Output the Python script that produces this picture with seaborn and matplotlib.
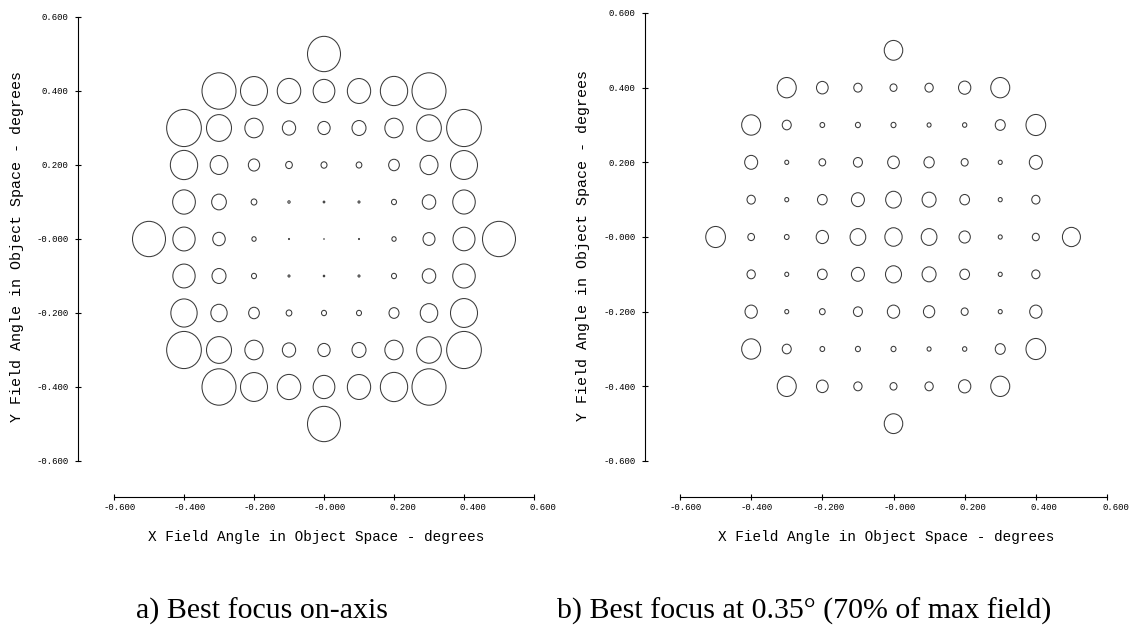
import matplotlib
matplotlib.use("Agg")
import matplotlib.pyplot as plt
import matplotlib.transforms as mtransforms
from matplotlib.path import Path
import pandas as pd
import seaborn as sns

# Spot matrix: field points in degrees, one list of x positions per y row
field_y = [0.5, 0.4, 0.3, 0.2, 0.1, 0.0, -0.1, -0.2, -0.3, -0.4, -0.5]
field_x = [
    [0.0],
    [-0.3, -0.2, -0.1, 0.0, 0.1, 0.2, 0.3],
    [-0.4, -0.3, -0.2, -0.1, 0.0, 0.1, 0.2, 0.3, 0.4],
    [-0.4, -0.3, -0.2, -0.1, 0.0, 0.1, 0.2, 0.3, 0.4],
    [-0.4, -0.3, -0.2, -0.1, 0.0, 0.1, 0.2, 0.3, 0.4],
    [-0.5, -0.4, -0.3, -0.2, -0.1, 0.0, 0.1, 0.2, 0.3, 0.4, 0.5],
    [-0.4, -0.3, -0.2, -0.1, 0.0, 0.1, 0.2, 0.3, 0.4],
    [-0.4, -0.3, -0.2, -0.1, 0.0, 0.1, 0.2, 0.3, 0.4],
    [-0.4, -0.3, -0.2, -0.1, 0.0, 0.1, 0.2, 0.3, 0.4],
    [-0.3, -0.2, -0.1, 0.0, 0.1, 0.2, 0.3],
    [0.0],
]

# spot diameters (relative units)
spot_a = [
    [34],
    [35, 28, 24.5, 22.7, 24.3, 28.3, 35],
    [35.7, 26, 19.3, 14.3, 13.3, 15, 19.3, 25.7, 35.7],
    [28.3, 18.7, 12.3, 7.7, 7, 6.7, 11.7, 19, 28],
    [23.7, 15.7, 6.7, 3.3, 2.7, 3, 6, 14.5, 23.5],
    [34, 23.3, 13.5, 5.3, 2, 1, 2, 5.3, 13, 23, 34],
    [23.3, 15, 6, 3, 2.5, 3, 6, 14.5, 23.5],
    [27.3, 17.3, 11.7, 6.7, 6, 6, 11, 18.5, 28],
    [35.7, 26, 19.3, 14.3, 13.3, 15, 19.3, 25.7, 35.7],
    [35, 28, 24.5, 22.7, 24.3, 28.3, 35],
    [34],
]
spot_b = [
    [19.5],
    [20, 12.7, 9.3, 8, 9.3, 13.3, 20],
    [20, 10, 5.7, 6, 6, 5, 5.3, 11, 20.7],
    [14, 5, 7.7, 10, 12.7, 11.3, 8, 5, 14],
    [9.3, 5, 10.7, 14, 16.7, 15, 10.7, 5, 9.2],
    [20.7, 7.7, 5.7, 13.3, 16.7, 18.3, 16.7, 12.3, 5, 8, 19],
    [9.3, 5, 10.7, 14, 17, 15, 10.7, 5, 9.2],
    [13.3, 5, 6.7, 10, 13.3, 12.3, 8, 5, 13.3],
    [20, 10, 5.7, 6, 6, 5, 5.3, 11, 20.7],
    [20, 12.7, 9.3, 8, 9.3, 13.3, 20],
    [19.5],
]

tick_values = [-0.6, -0.4, -0.2, 0.0, 0.2, 0.4, 0.6]
tick_labels = ["-0.600", "-0.400", "-0.200", "-0.000", "0.200", "0.400", "0.600"]
x_title = "X Field Angle in Object Space - degrees"
y_title = "Y Field Angle in Object Space - degrees"
captions = ["a) Best focus on-axis", "b) Best focus at 0.35\u00b0 (70% of max field)"]


def load_data() -> pd.DataFrame:
    rows = []
    for panel, spots in (("a", spot_a), ("b", spot_b)):
        for y, xs, ds in zip(field_y, field_x, spots):
            for x, d in zip(xs, ds):
                rows.append((panel, x, y, d))
    return pd.DataFrame(rows, columns=["panel", "x", "y", "spot"])


DPI = 100
W, H = 1130, 634
STRETCH = 1.07  # picture was stretched vertically, so spots are slightly tall
LW = 0.75

# pixel geometry of each panel: axes box, spine offsets, label positions
layout = {
    "a": dict(box=(114, 17, 534, 461), off=(25.9, 25.9), xlab=(0.481, -0.171),
              ylab=(-0.231, 0.482), cap=(262, 611)),
    "b": dict(box=(680, 13, 1107, 461), off=(25.2, 25.9), xlab=(0.482, -0.170),
              ylab=(-0.227, 0.482), cap=(804, 611)),
}


def main() -> None:
    df = load_data()
    # marker area in pt^2 (diameter measured in pixels of the picture)
    df["area"] = ((df["spot"] - 1.0).clip(lower=0.6) * 72 / DPI * STRETCH) ** 2
    lo, hi = df["area"].min(), df["area"].max()

    sns.set_theme(style="white")
    plt.rcParams["font.family"] = ["Liberation Mono", "DejaVu Sans"]

    ellipse = mtransforms.Affine2D().scale(1 / STRETCH, 1).transform_path(Path.unit_circle())

    fig = plt.figure(figsize=(W / DPI, H / DPI), dpi=DPI)
    shift = mtransforms.ScaledTranslation(22 / DPI, 0, fig.dpi_scale_trans)

    for (panel, lay), caption in zip(layout.items(), captions):
        x0, y0, x1, y1 = lay["box"]
        ax = fig.add_axes([x0 / W, 1 - y1 / H, (x1 - x0) / W, (y1 - y0) / H])
        ax.set_facecolor("none")

        sns.scatterplot(
            data=df[df["panel"] == panel], x="x", y="y",
            size="area", sizes=(lo, hi), size_norm=(lo, hi),
            marker=ellipse, facecolor="none", edgecolor="#3a3a3a",
            linewidth=LW, legend=False, ax=ax,
        )

        ax.set_xlim(-0.6, 0.6)
        ax.set_ylim(-0.6, 0.6)
        ax.set_xticks(tick_values)
        ax.set_xticklabels(tick_labels)
        ax.set_yticks(tick_values)
        ax.set_yticklabels(tick_labels)

        sns.despine(ax=ax, offset={"left": lay["off"][0], "bottom": lay["off"][1]})
        for side in ("left", "bottom"):
            ax.spines[side].set_bounds(-0.6, 0.6)
            ax.spines[side].set_color("black")
            ax.spines[side].set_linewidth(0.8)

        ax.tick_params(bottom=True, left=True, direction="inout", length=4.8,
                       width=0.8, color="black", labelsize=6.5, labelcolor="black")
        ax.tick_params(axis="x", pad=2.0)
        ax.tick_params(axis="y", pad=4.4)
        # labels in the original sit right-aligned a little right of the tick
        for lab in ax.get_xticklabels():
            lab.set_horizontalalignment("right")
            lab.set_transform(lab.get_transform() + shift)

        ax.set_xlabel(x_title, fontsize=10.4, color="black")
        ax.xaxis.set_label_coords(*lay["xlab"])
        ax.xaxis.label.set_va("center")
        ax.set_ylabel(y_title, fontsize=10.8, color="black")
        ax.yaxis.set_label_coords(*lay["ylab"])
        ax.yaxis.label.set_va("center")

        cx, cy = lay["cap"]
        fig.text(cx / W, 1 - cy / H, caption, family=["Liberation Serif", "DejaVu Serif"],
                 fontsize=21.5, color="black", ha="center", va="center")

    fig.savefig("out.png", dpi=DPI)


if __name__ == "__main__":
    main()
